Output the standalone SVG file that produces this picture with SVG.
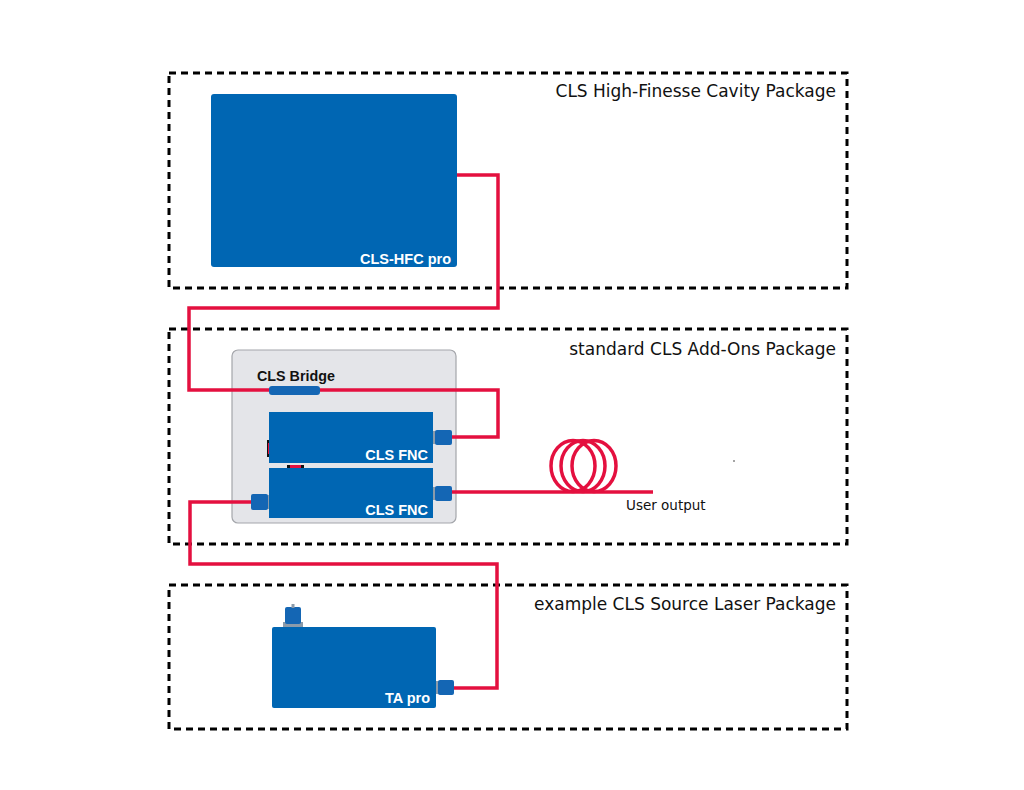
<svg xmlns="http://www.w3.org/2000/svg" width="1024" height="790" viewBox="0 0 1024 790">
<style>
.pkg{fill:none;stroke:#000;stroke-width:3;stroke-dasharray:7 5}
.pkgl{font-family:"DejaVu Sans",Verdana,sans-serif;font-size:17px;fill:#111;text-anchor:end}
.dev{fill:#0066b3}
.devl{font-family:"Liberation Sans",Arial,sans-serif;font-weight:bold;font-size:14.5px;fill:#fff;text-anchor:end}
.con{fill:#1466b4}
.base{fill:#8b9bab}
.fib{fill:none;stroke:#e4103f;stroke-width:3.5}
</style>
<rect width="1024" height="790" fill="#fff"/>
<g id="pkg-hfc">
<rect class="pkg" x="169" y="73" width="678" height="215"/>
<text class="pkgl" x="836" y="97">CLS High-Finesse Cavity Package</text>
</g>
<g id="pkg-addons">
<rect class="pkg" x="169" y="329" width="678" height="215"/>
<text class="pkgl" x="836" y="355">standard CLS Add-Ons Package</text>
</g>
<g id="pkg-source">
<rect class="pkg" x="169" y="585" width="678" height="144"/>
<text class="pkgl" x="836" y="610">example CLS Source Laser Package</text>
</g>
<g id="hfc">
<rect class="dev" x="211" y="94" width="246" height="173" rx="3"/>
<text class="devl" x="451" y="264">CLS-HFC pro</text>
</g>
<g id="addon-housing">
<rect x="232" y="350" width="224" height="173" rx="6" fill="#e4e5e9" stroke="#a4a6ab" stroke-width="1.2"/>
<text x="257" y="381" font-family="Liberation Sans,Arial,sans-serif" font-weight="bold" font-size="14.3" fill="#111">CLS Bridge</text>
</g>
<g id="connectors">
<path class="fib" d="M457,175 H498 V308 H189 V390 H498 V437 H452"/>
<path class="fib" d="M251,502 H190 V564 H497 V688 H454"/>
<path class="fib" d="M452,492 H653"/>
<ellipse class="fib" cx="573" cy="466" rx="22" ry="25.5" stroke-width="4"/>
<ellipse class="fib" cx="583" cy="466" rx="22" ry="25.5" stroke-width="4"/>
<ellipse class="fib" cx="594" cy="466" rx="22" ry="25.5" stroke-width="4"/>
</g>
<g id="bridge">
<rect class="con" x="269" y="386" width="51" height="9" rx="3"/>
</g>
<g id="fnc1">
<rect x="267" y="440" width="3" height="17" fill="#111"/>
<rect x="268" y="443" width="2" height="11" fill="#e4103f"/>
<rect class="dev" x="269" y="412" width="164" height="51"/>
<rect class="base" x="433" y="431" width="3" height="13"/>
<rect class="con" x="435" y="430" width="17" height="15" rx="2"/>
<text class="devl" x="428" y="460">CLS FNC</text>
</g>
<g id="fnc2">
<rect x="287" y="465" width="17" height="3" fill="#111"/>
<rect x="290" y="465" width="11" height="3" fill="#e4103f"/>
<rect class="dev" x="269" y="468" width="164" height="50"/>
<rect class="base" x="433" y="487" width="3" height="13"/>
<rect class="con" x="435" y="486" width="17" height="15" rx="2"/>
<rect class="base" x="266" y="495" width="3" height="14"/>
<rect class="con" x="251" y="494" width="17" height="16" rx="2"/>
<text class="devl" x="428" y="515">CLS FNC</text>
</g>
<g id="user-output">
<text x="626" y="510" font-family="DejaVu Sans,Verdana,sans-serif" font-size="13.5" fill="#111">User output</text>
<circle cx="734" cy="461" r="0.8" fill="#333"/>
</g>
<g id="ta">
<rect class="base" x="283" y="622" width="20" height="5"/>
<rect class="con" x="285" y="607" width="16" height="17" rx="2"/>
<rect x="291.5" y="604" width="3" height="4" fill="#8b9bab"/>
<rect class="dev" x="272" y="627" width="164" height="81" rx="2"/>
<rect class="base" x="436" y="681" width="3" height="13"/>
<rect class="con" x="438" y="680" width="16" height="15" rx="2"/>
<text class="devl" x="430" y="703" font-size="15.5">TA pro</text>
</g>
</svg>
